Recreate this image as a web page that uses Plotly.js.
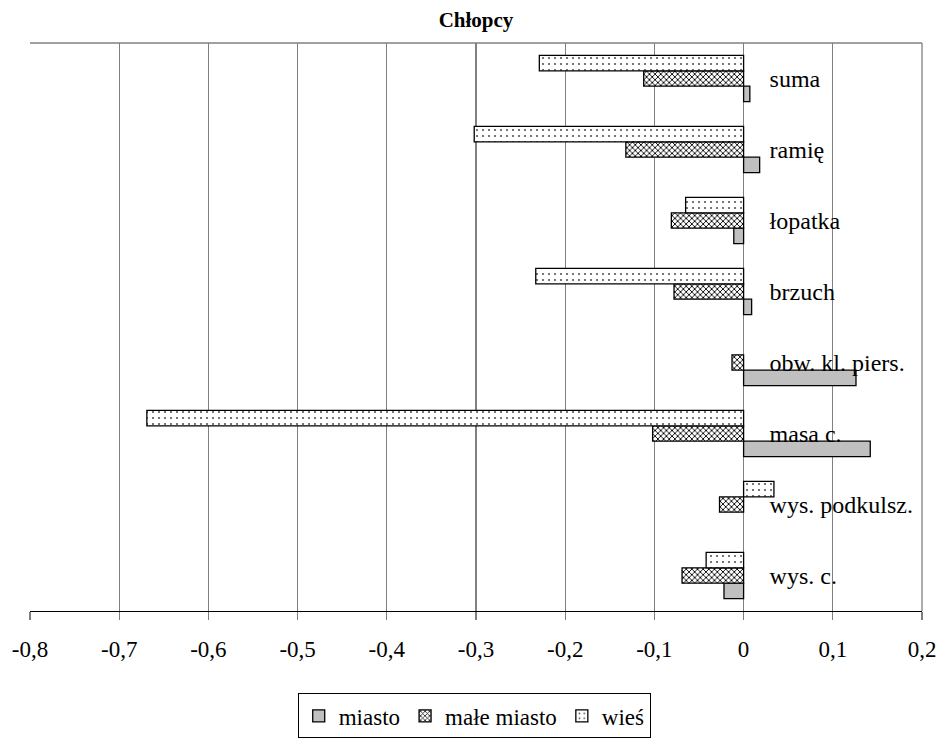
<!DOCTYPE html>
<html>
<head>
<meta charset="utf-8">
<script src="https://cdn.plot.ly/plotly-3.0.1.min.js"></script>
<style>html,body{margin:0;padding:0;background:#fff;}#chart{width:943px;height:740px;}</style>
</head>
<body>
<div id="chart"></div>
<script>
const categories = ["wys. c.", "wys. podkulsz.", "masa c.", "obw. kl. piers.", "brzuch", "łopatka", "ramię", "suma"];
const miasto = [-0.022, null, 0.142, 0.126, 0.009, -0.011, 0.018, 0.007];
const maleMiasto = [-0.069, -0.027, -0.102, -0.013, -0.078, -0.081, -0.132, -0.112];
const wies = [-0.042, 0.034, -0.669, null, -0.233, -0.065, -0.302, -0.229];
const xTicks = [-0.8, -0.7, -0.6, -0.5, -0.4, -0.3, -0.2, -0.1, 0, 0.1, 0.2];
const xTickText = ["-0,8", "-0,7", "-0,6", "-0,5", "-0,4", "-0,3", "-0,2", "-0,1", "0", "0,1", "0,2"];

const font = "'Liberation Serif', 'DejaVu Serif', serif";
const traces = [
  {type: "bar", orientation: "h", name: "miasto", y: categories, x: miasto,
   marker: {color: "#c0c0c0", line: {color: "#000", width: 1.3}}},
  {type: "bar", orientation: "h", name: "małe miasto", y: categories, x: maleMiasto,
   marker: {color: "#ffffff", line: {color: "#000", width: 1.3},
            pattern: {shape: "x", size: 4, solidity: 0.4, fgcolor: "#000", bgcolor: "#fff"}}},
  {type: "bar", orientation: "h", name: "wieś", y: categories, x: wies,
   marker: {color: "#ffffff", line: {color: "#000", width: 1.3},
            pattern: {shape: ".", size: 6, solidity: 0.1, fgcolor: "#555", bgcolor: "#fff"}}}
];

const layout = {
  width: 943, height: 740,
  margin: {l: 30, r: 21, t: 43, b: 129, autoexpand: false},
  paper_bgcolor: "#fff", plot_bgcolor: "#fff",
  font: {family: font, size: 23, color: "#000"},
  title: {text: "<b>Chłopcy</b>", font: {family: font, size: 21, color: "#000"}, x: 0.5, xanchor: "center", xref: "paper", y: 0.973, yanchor: "middle"},
  barmode: "group", bargap: 0.35, bargroupgap: 0,
  showlegend: true,
  legend: {orientation: "h", x: 0.498, xanchor: "center", y: -0.145, yanchor: "top",
           bordercolor: "#000", borderwidth: 1, font: {family: font, size: 23},
           traceorder: "normal", itemwidth: 30},
  xaxis: {range: [-0.8, 0.2], tickvals: xTicks, ticktext: xTickText,
          showgrid: true, gridcolor: "#808080", gridwidth: 1.3,
          zeroline: true, zerolinecolor: "#808080", zerolinewidth: 1.3,
          showline: true, linecolor: "#000", linewidth: 1.3, mirror: false,
          ticks: "outside", ticklen: 8, tickcolor: "#808080", tickwidth: 1.3,
          ticklabelstandoff: 9,
          tickfont: {family: font, size: 23}, fixedrange: true},
  yaxis: {type: "category", categoryorder: "array", categoryarray: categories,
          anchor: "free", position: 0.8, side: "right",
          showline: false, showgrid: false, zeroline: false, ticks: "",
          ticklabelstandoff: 25,
          tickfont: {family: font, size: 24}, fixedrange: true},
  shapes: [
    {type: "line", xref: "paper", yref: "paper", x0: 0, x1: 1, y0: 1, y1: 1, line: {color: "#808080", width: 1.3}},
    {type: "line", xref: "paper", yref: "paper", x0: 1, x1: 1, y0: 0, y1: 1, line: {color: "#808080", width: 1.3}}
  ]
};

Plotly.newPlot("chart", traces, layout, {displayModeBar: false, staticPlot: true});
</script>
</body>
</html>
